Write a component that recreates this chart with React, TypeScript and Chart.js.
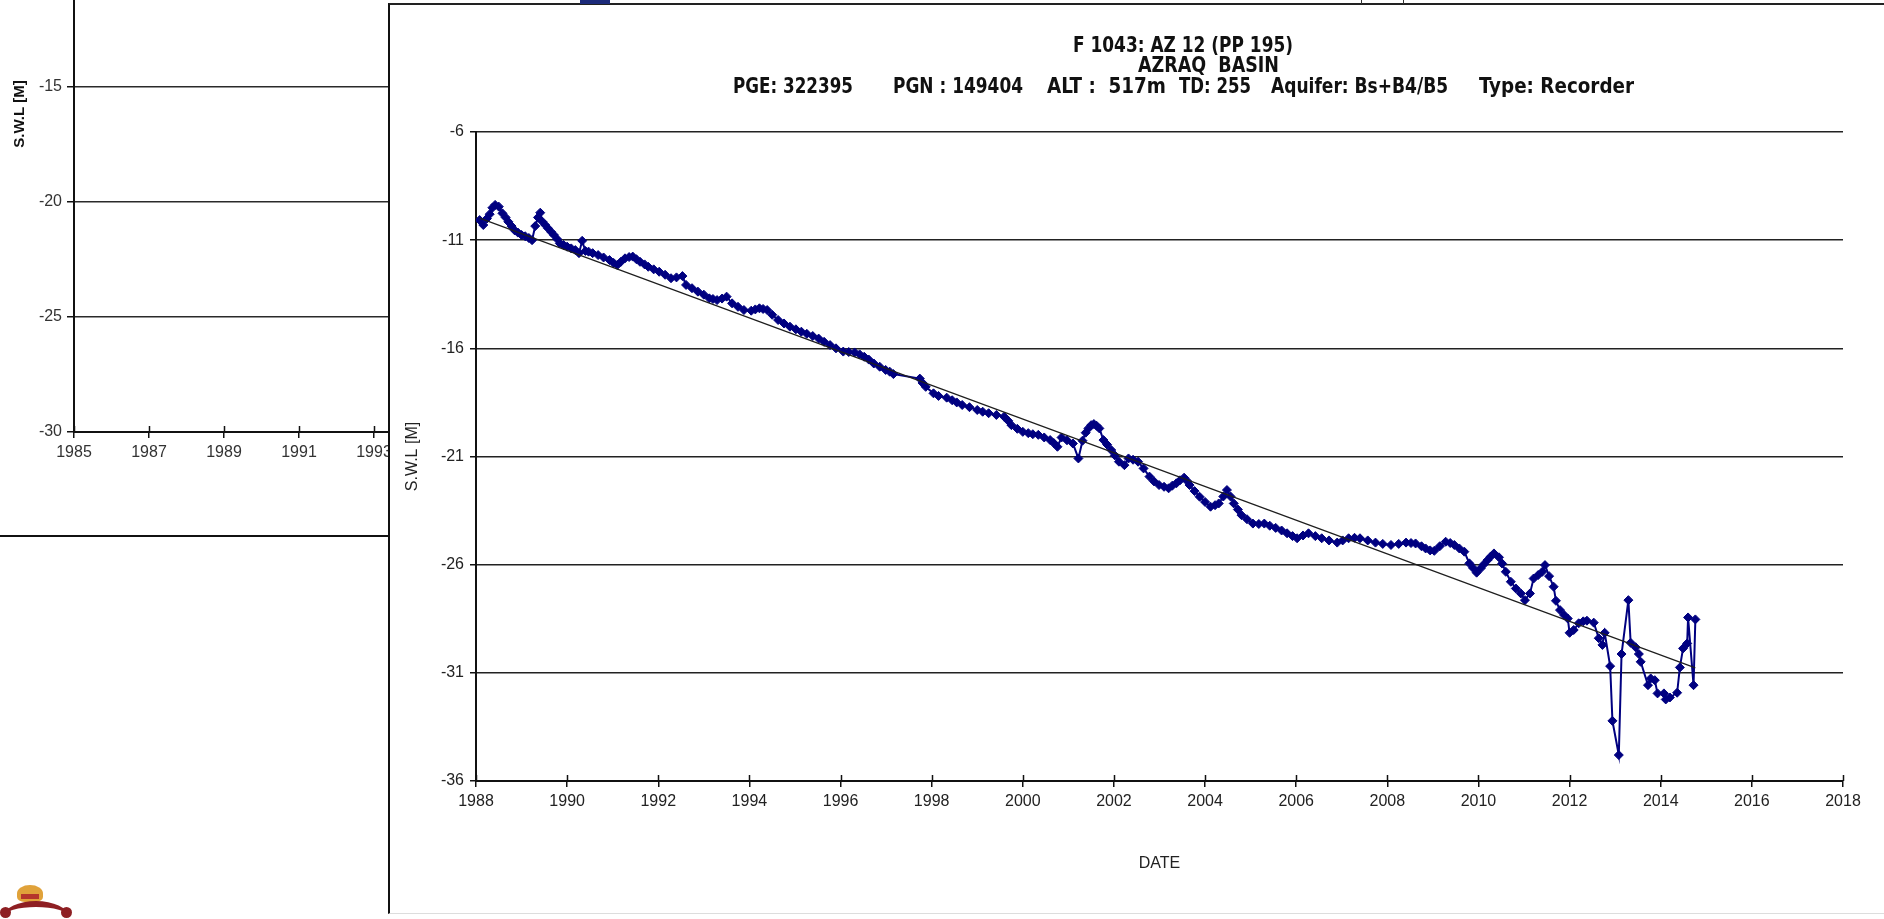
import React, { useEffect, useRef } from 'react';
import { Chart, registerables } from 'chart.js';

Chart.register(...registerables);

// ---------- DATA ----------
const dates = [
  1988.08, 1988.16, 1988.24, 1988.30, 1988.36, 1988.42, 1988.50, 1988.58, 1988.65, 1988.71,
  1988.78, 1988.85, 1988.92, 1989.00, 1989.08, 1989.16, 1989.23, 1989.30, 1989.36, 1989.41,
  1989.46, 1989.52, 1989.58, 1989.65, 1989.71, 1989.78, 1989.84, 1989.92, 1990.00, 1990.09,
  1990.18, 1990.26, 1990.33, 1990.40, 1990.47, 1990.56, 1990.68, 1990.80, 1990.93, 1991.02,
  1991.10, 1991.18, 1991.27, 1991.36, 1991.44, 1991.52, 1991.60, 1991.70, 1991.78, 1991.90,
  1992.02, 1992.15, 1992.28, 1992.40, 1992.53, 1992.61, 1992.74, 1992.87, 1993.00, 1993.12,
  1993.20, 1993.29, 1993.40, 1993.50, 1993.62, 1993.75, 1993.88, 1994.04, 1994.13, 1994.22,
  1994.30, 1994.39, 1994.50, 1994.63, 1994.76, 1994.89, 1995.02, 1995.14, 1995.26, 1995.39,
  1995.52, 1995.64, 1995.77, 1995.90, 1996.06, 1996.18, 1996.31, 1996.42, 1996.52, 1996.62,
  1996.73, 1996.86, 1996.99, 1997.08, 1997.16, 1997.74, 1997.80, 1997.87, 1998.04, 1998.15,
  1998.33, 1998.45, 1998.55, 1998.67, 1998.83, 1999.00, 1999.12, 1999.25, 1999.42, 1999.59,
  1999.68, 1999.75, 1999.88, 2000.00, 2000.12, 2000.22, 2000.34, 2000.47, 2000.60, 2000.68,
  2000.76, 2000.85, 2000.97, 2001.10, 2001.22, 2001.31, 2001.38, 2001.44, 2001.50, 2001.56,
  2001.62, 2001.68, 2001.77, 2001.85, 2001.94, 2002.02, 2002.11, 2002.23, 2002.32, 2002.42,
  2002.53, 2002.65, 2002.78, 2002.88, 2002.99, 2003.10, 2003.20, 2003.28, 2003.37, 2003.45,
  2003.54, 2003.60, 2003.66, 2003.77, 2003.88, 2004.00, 2004.12, 2004.22, 2004.30, 2004.40,
  2004.48, 2004.56, 2004.63, 2004.72, 2004.80, 2004.92, 2005.05, 2005.18, 2005.30, 2005.42,
  2005.55, 2005.68, 2005.80, 2005.92, 2006.02, 2006.15, 2006.27, 2006.42, 2006.56, 2006.72,
  2006.90, 2007.02, 2007.15, 2007.28, 2007.40, 2007.57, 2007.74, 2007.90, 2008.08, 2008.25,
  2008.41, 2008.52, 2008.62, 2008.75, 2008.84, 2008.94, 2009.03, 2009.15, 2009.28, 2009.38,
  2009.47, 2009.58, 2009.69, 2009.80, 2009.88, 2009.96, 2010.05, 2010.12, 2010.20, 2010.27,
  2010.34, 2010.45, 2010.52, 2010.60, 2010.71, 2010.82, 2010.93, 2011.02, 2011.13, 2011.21,
  2011.31, 2011.40, 2011.46, 2011.55, 2011.65, 2011.70, 2011.79, 2011.88, 2011.96, 2012.00,
  2012.09, 2012.20, 2012.30, 2012.38, 2012.53, 2012.64, 2012.72, 2012.77, 2012.89, 2012.94,
  2013.08, 2013.14, 2013.29, 2013.34, 2013.45, 2013.52, 2013.56, 2013.72, 2013.78, 2013.87,
  2013.93, 2014.07, 2014.11, 2014.20, 2014.36, 2014.42, 2014.49, 2014.58, 2014.60, 2014.72,
  2014.76,
];

const levels = [
  -10.07, -10.30, -10.00, -9.80, -9.50, -9.37, -9.45, -9.76, -9.95, -10.15,
  -10.35, -10.55, -10.65, -10.76, -10.82, -10.90, -11.00, -10.35, -9.95, -9.73,
  -10.15, -10.30, -10.45, -10.62, -10.76, -10.95, -11.15, -11.22, -11.30, -11.38,
  -11.46, -11.60, -11.03, -11.50, -11.53, -11.60, -11.69, -11.80, -11.92, -12.05,
  -12.15, -12.00, -11.84, -11.78, -11.76, -11.88, -12.00, -12.12, -12.23, -12.35,
  -12.46, -12.60, -12.76, -12.72, -12.66, -13.07, -13.22, -13.38, -13.52, -13.69,
  -13.72, -13.77, -13.70, -13.61, -13.92, -14.08, -14.23, -14.26, -14.20, -14.15,
  -14.18, -14.23, -14.45, -14.69, -14.85, -15.00, -15.12, -15.23, -15.33, -15.43,
  -15.55, -15.70, -15.85, -16.00, -16.15, -16.17, -16.19, -16.28, -16.39, -16.52,
  -16.70, -16.85, -17.00, -17.08, -17.19, -17.40, -17.60, -17.78, -18.08, -18.20,
  -18.28, -18.40, -18.50, -18.62, -18.72, -18.85, -18.93, -19.00, -19.08, -19.16,
  -19.35, -19.55, -19.72, -19.86, -19.92, -19.97, -20.00, -20.12, -20.24, -20.38,
  -20.55, -20.12, -20.25, -20.40, -21.09, -20.27, -19.90, -19.70, -19.55, -19.50,
  -19.58, -19.70, -20.24, -20.45, -20.70, -20.95, -21.24, -21.40, -21.09, -21.15,
  -21.24, -21.55, -21.93, -22.15, -22.32, -22.40, -22.47, -22.35, -22.24, -22.10,
  -21.98, -22.12, -22.32, -22.60, -22.86, -23.10, -23.32, -23.25, -23.17, -22.85,
  -22.55, -22.85, -23.17, -23.45, -23.71, -23.90, -24.10, -24.12, -24.10, -24.20,
  -24.30, -24.42, -24.55, -24.68, -24.78, -24.65, -24.55, -24.68, -24.78, -24.88,
  -24.98, -24.88, -24.78, -24.76, -24.78, -24.88, -24.98, -25.04, -25.09, -25.04,
  -24.98, -25.00, -25.02, -25.15, -25.25, -25.34, -25.36, -25.15, -24.94, -25.00,
  -25.09, -25.25, -25.40, -25.94, -26.15, -26.37, -26.17, -25.98, -25.79, -25.62,
  -25.48, -25.66, -25.95, -26.33, -26.79, -27.10, -27.33, -27.64, -27.33, -26.64,
  -26.48, -26.33, -26.02, -26.53, -27.02, -27.67, -28.10, -28.33, -28.49, -29.15,
  -29.02, -28.71, -28.62, -28.59, -28.68, -29.40, -29.71, -29.15, -30.69, -33.22,
  -34.80, -30.13, -27.64, -29.61, -29.82, -30.13, -30.49, -31.57, -31.26, -31.34,
  -31.95, -31.95, -32.23, -32.14, -31.92, -30.75, -29.87, -29.64, -28.44, -31.57,
  -28.53,
];

const trendDates = [1988.08, 2014.76];
const trendLevels = [-9.98, -30.77];

const mainXTicks = [1988, 1990, 1992, 1994, 1996, 1998, 2000, 2002, 2004, 2006, 2008, 2010, 2012, 2014, 2016, 2018];
const mainYTicks = [-36, -31, -26, -21, -16, -11, -6];
const leftXTicks = [1985, 1987, 1989, 1991, 1993, 1995, 1997, 1999, 2001];
const leftYTicks = [-30, -25, -20, -15, -10];

const titleLine1 = 'F 1043: AZ 12 (PP 195)';
const titleLine2 = 'AZRAQ  BASIN';
const infoSegments = ['PGE: 322395', 'PGN : 149404', 'ALT :  517m', 'TD: 255', 'Aquifer: Bs+B4/B5', 'Type: Recorder'];
const yTitle = 'S.W.L [M]';
const xTitle = 'DATE';

// ---------- STYLE / LAYOUT ----------
const FONT = "'Liberation Sans', Arial, sans-serif";
const NARROW = "'Liberation Sans Narrow', 'DejaVu Sans Condensed', 'Liberation Sans', sans-serif";

// [x, width, y] in main-canvas pixels for each title piece
const line1Box = [683, 220, 42];
const line2Box = [748, 141, 62];
const infoBoxes = [
  [343, 120, 83], [503, 130, 83], [657, 119, 83], [789, 72, 83], [881, 177, 83], [1089, 155, 83],
];

const crossTicksPlugin = {
  id: 'crossTicks',
  afterDraw(chart: any, _args: any, opts: any) {
    const xs = chart.scales.x;
    const { ctx, chartArea } = chart;
    ctx.save();
    ctx.strokeStyle = opts.color || '#111';
    ctx.lineWidth = opts.width || 1.5;
    ctx.beginPath();
    xs.ticks.forEach((t: any) => {
      const px = Math.round(xs.getPixelForValue(t.value)) + 0.5;
      ctx.moveTo(px, chartArea.bottom - (opts.len || 6));
      ctx.lineTo(px, chartArea.bottom);
    });
    ctx.stroke();
    ctx.restore();
  },
};

function fitText(ctx: CanvasRenderingContext2D, text: string, x: number, w: number, y: number) {
  const m = ctx.measureText(text).width || 1;
  ctx.save();
  ctx.translate(x, y);
  ctx.scale(w / m, 1);
  ctx.fillText(text, 0, 0);
  ctx.restore();
}

const titlesPlugin = {
  id: 'mainTitles',
  afterDraw(chart: any) {
    const ctx = chart.ctx as CanvasRenderingContext2D;
    ctx.save();
    ctx.fillStyle = '#111';
    ctx.textBaseline = 'middle';
    ctx.textAlign = 'left';
    ctx.font = `bold 21px ${NARROW}`;
    fitText(ctx, titleLine1, line1Box[0], line1Box[1], line1Box[2]);
    fitText(ctx, titleLine2, line2Box[0], line2Box[1], line2Box[2]);
    infoSegments.forEach((s, i) => {
      const b = infoBoxes[i];
      fitText(ctx, s, b[0], b[1], b[2]);
    });
    ctx.restore();
  },
};

const sideLabelPlugin = {
  id: 'sideLabel',
  afterDraw(chart: any, _a: any, opts: any) {
    const ctx = chart.ctx as CanvasRenderingContext2D;
    ctx.save();
    ctx.translate(opts.x, opts.y);
    ctx.rotate(-Math.PI / 2);
    ctx.fillStyle = '#111';
    ctx.font = `bold 15px ${FONT}`;
    ctx.textAlign = 'center';
    ctx.textBaseline = 'middle';
    ctx.fillText(opts.text, 0, 0);
    ctx.restore();
  },
};

export default function App() {
  const mainRef = useRef<HTMLCanvasElement>(null);
  const leftRef = useRef<HTMLCanvasElement>(null);

  useEffect(() => {
    const series = dates.map((d, i) => ({ x: d, y: levels[i] }));
    const trend = trendDates.map((d, i) => ({ x: d, y: trendLevels[i] }));

    const main = new Chart(mainRef.current as HTMLCanvasElement, {
      type: 'line',
      data: {
        datasets: [
          {
            label: 'S.W.L',
            data: series,
            borderColor: '#000080',
            borderWidth: 2,
            pointStyle: 'rectRot',
            pointRadius: 4.5,
            pointBackgroundColor: '#000080',
            pointBorderColor: '#000080',
            pointBorderWidth: 1,
            tension: 0,
            order: 1,
          } as any,
          {
            label: 'trend',
            data: trend,
            borderColor: '#1e1e1e',
            borderWidth: 1.2,
            pointRadius: 0,
            order: 0,
          } as any,
        ],
      },
      options: {
        responsive: false,
        animation: false,
        events: [],
        layout: { padding: { top: 127, right: 41, bottom: 0, left: 0 } },
        plugins: {
          legend: { display: false },
          tooltip: { enabled: false },
          title: { display: false },
          crossTicks: { len: 6, color: '#111', width: 1.5 },
        } as any,
        scales: {
          x: {
            type: 'linear',
            min: 1988,
            max: 2018,
            afterBuildTicks: (s: any) => { s.ticks = mainXTicks.map((v) => ({ value: v })); },
            afterFit: (s: any) => { s.height = 132; },
            ticks: {
              font: { family: FONT, size: 16 },
              color: '#222',
              padding: 5,
              maxRotation: 0,
              autoSkip: false,
              callback: (v: any) => String(v),
            },
            grid: { drawOnChartArea: false, drawTicks: true, tickLength: 6, color: '#111', lineWidth: 1.5 },
            border: { display: true, color: '#111', width: 2 },
            title: {
              display: true,
              text: xTitle,
              font: { family: FONT, size: 16 },
              color: '#222',
              padding: { top: 0, bottom: 40 },
            },
          },
          y: {
            type: 'linear',
            min: -36,
            max: -6,
            afterBuildTicks: (s: any) => { s.ticks = mainYTicks.map((v) => ({ value: v })); },
            afterFit: (s: any) => { s.width = 86; },
            ticks: {
              font: { family: FONT, size: 16 },
              color: '#222',
              padding: 6,
              autoSkip: false,
              callback: (v: any) => String(v),
            },
            grid: { color: '#222', lineWidth: 1.5, drawTicks: true, tickLength: 6, tickColor: '#111' },
            border: { display: true, color: '#111', width: 2 },
            title: {
              display: true,
              text: yTitle,
              font: { family: FONT, size: 16 },
              color: '#222',
              padding: { top: 13, bottom: 0 },
            },
          },
        } as any,
      },
      plugins: [crossTicksPlugin, titlesPlugin],
    });

    const left = new Chart(leftRef.current as HTMLCanvasElement, {
      type: 'line',
      data: { datasets: [] },
      options: {
        responsive: false,
        animation: false,
        events: [],
        layout: { padding: { top: 32, right: 26, bottom: 0, left: 0 } },
        plugins: {
          legend: { display: false },
          tooltip: { enabled: false },
          crossTicks: { len: 6, color: '#111', width: 1.5 },
          sideLabel: { x: 20, y: 174, text: yTitle },
        } as any,
        scales: {
          x: {
            type: 'linear',
            min: 1985,
            max: 2001,
            afterBuildTicks: (s: any) => { s.ticks = leftXTicks.map((v) => ({ value: v })); },
            afterFit: (s: any) => { s.height = 108; },
            ticks: {
              font: { family: FONT, size: 16 },
              color: '#333',
              padding: 5,
              maxRotation: 0,
              autoSkip: false,
              callback: (v: any) => String(v),
            },
            grid: { drawOnChartArea: false, drawTicks: true, tickLength: 6, color: '#111', lineWidth: 1.5 },
            border: { display: true, color: '#111', width: 2 },
          },
          y: {
            type: 'linear',
            min: -30,
            max: -10,
            afterBuildTicks: (s: any) => { s.ticks = leftYTicks.map((v) => ({ value: v })); },
            afterFit: (s: any) => { s.width = 74; },
            ticks: {
              font: { family: FONT, size: 16 },
              color: '#333',
              padding: 5,
              autoSkip: false,
              callback: (v: any) => String(v),
            },
            grid: { color: '#2a2a2a', lineWidth: 1.5, drawTicks: true, tickLength: 7, tickColor: '#111' },
            border: { display: true, color: '#111', width: 2 },
          },
        } as any,
      },
      plugins: [crossTicksPlugin, sideLabelPlugin],
    });

    return () => {
      main.destroy();
      left.destroy();
    };
  }, []);

  return (
    <div style={{ position: 'fixed', left: 0, top: 0, width: 1884, height: 919, overflow: 'hidden', background: '#fff' }}>
      <canvas
        ref={leftRef}
        width={700}
        height={600}
        style={{ position: 'absolute', left: 0, top: -60, width: 700, height: 600 }}
      />
      <div style={{ position: 'absolute', left: 0, top: 535, width: 390, height: 2, background: '#111' }} />
      <div
        style={{
          position: 'absolute',
          left: 388,
          top: 3,
          width: 1494,
          height: 908,
          borderLeft: '2px solid #111',
          borderTop: '2px solid #222',
          borderBottom: '1px solid #ddd',
          background: '#fff',
        }}
      >
        <canvas ref={mainRef} width={1494} height={908} style={{ display: 'block', width: 1494, height: 908 }} />
      </div>
      <div style={{ position: 'absolute', left: 580, top: 0, width: 30, height: 4, background: '#1c2a7a' }} />
      <div style={{ position: 'absolute', left: 1361, top: 0, width: 1, height: 4, background: '#333' }} />
      <div style={{ position: 'absolute', left: 1403, top: 0, width: 1, height: 4, background: '#333' }} />
      {/* emblem fragment at bottom-left */}
      <div style={{ position: 'absolute', left: 17, top: 885, width: 26, height: 17, background: '#e0a23a', borderRadius: '50% 50% 30% 30%' }} />
      <div style={{ position: 'absolute', left: 21, top: 894, width: 18, height: 5, background: '#b5362c' }} />
      <div
        style={{
          position: 'absolute',
          left: 4,
          top: 901,
          width: 64,
          height: 30,
          borderTop: '6px solid #8e1f23',
          borderRadius: '50% 50% 0 0',
          boxSizing: 'border-box',
        }}
      />
      <div style={{ position: 'absolute', left: 0, top: 907, width: 11, height: 11, borderRadius: '50%', background: '#8e1f23' }} />
      <div style={{ position: 'absolute', left: 61, top: 907, width: 11, height: 11, borderRadius: '50%', background: '#8e1f23' }} />
    </div>
  );
}
